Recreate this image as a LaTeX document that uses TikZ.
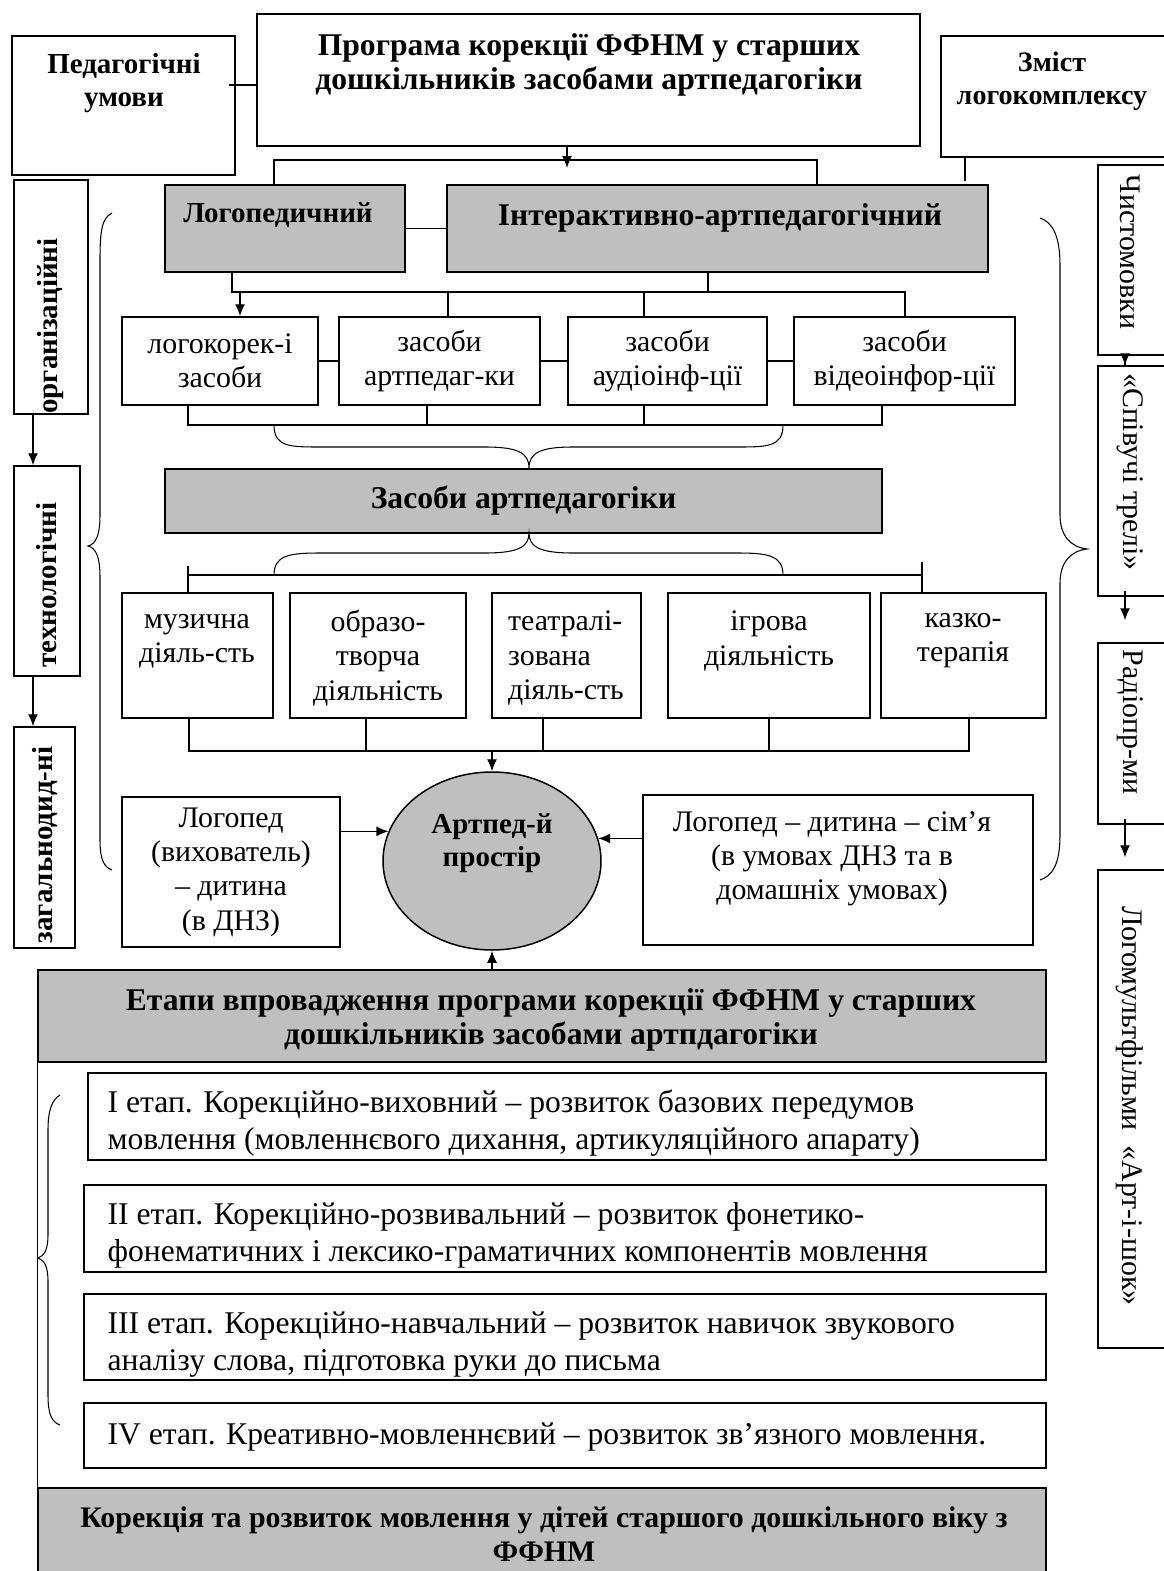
\documentclass[tikz,border=0pt]{standalone}
\usepackage{fontspec}
\setmainfont{Liberation Serif}
\usetikzlibrary{shapes.geometric,arrows.meta,calc}

\tikzset{
  box/.style={draw, line width=0.85pt, inner sep=0pt},
  gbox/.style={box, fill=black!25},
  sz/.style 2 args={minimum width=#1*0.02cm, minimum height=#2*0.02cm},
  txt/.style={align=center, inner sep=0pt, font=\fontsize{17}{19.5}\selectfont},
  hd/.style={align=center, inner sep=0pt, font=\fontsize{18}{19.5}\selectfont\bfseries},
  hds/.style={align=center, inner sep=0pt, font=\fontsize{16.5}{19}\selectfont\bfseries},
  stg/.style={align=left, anchor=west, inner sep=0pt, font=\fontsize{18}{21}\selectfont},
  brc/.style={line width=0.6pt}
}

\begin{document}
\begin{tikzpicture}[x=0.02cm, y=-0.02cm, line width=0.75pt, >={Latex[length=2.4mm,width=2mm]}]
    \useasboundingbox (0,0) rectangle (1163,1571);

    \node[box, sz={223}{139}] (pedag) at (123.5,105.5) {};
    \node[hds] (pedag-t) at (124,83) {Педагогічні\\умови};
    \node[box, sz={663}{132}] (prog) at (588.5,80) {};
    \node[hd] (prog-t) at (589,65) {Програма корекції ФФНМ у старших\\дошкільників засобами артпедагогіки};
    \node[box, sz={239}{121}] (zmist) at (1060.5,96.5) {};
    \node[hds, font=\fontsize{16}{19}\selectfont\bfseries] (zmist-t) at (1052,81) {Зміст\\логокомплексу};

    \node[gbox, sz={240}{87}] (logo) at (285,228.5) {};
    \node[hds] (logo-t) at (278,215) {Логопедичний};
    \node[gbox, sz={541}{87}] (inter) at (717.5,228.5) {};
    \node[hd] (inter-t) at (720,218) {Інтерактивно-артпедагогічний};

    \node[box, sz={196}{88}, txt] (tl1) at (220,361) {логокорек-і\\засоби};
    \node[box, sz={201}{88}, txt] (tl2) at (439.5,361) {засоби\\артпедаг-ки};
    \node[box, sz={199}{88}, txt] (tl3) at (667.5,361) {засоби\\аудіоінф-ції};
    \node[box, sz={221}{88}, txt] (tl4) at (904.5,361) {засоби\\відеоінфор-ції};

    \node[gbox, sz={717}{64}, hd] (zasoby) at (523.5,501) {Засоби артпедагогіки};

    \node[box, sz={151}{125}] (a1) at (197.5,655.5) {};
    \node[txt] (a1-t) at (197,641) {музична\\діяль-сть};
    \node[box, sz={176}{125}] (a2) at (378,655.5) {};
    \node[txt] (a2-t) at (378,658) {образо-\\творча\\діяльність};
    \node[box, sz={149}{125}] (a3) at (566.5,655.5) {};
    \node[txt, align=left] (a3-t) at (566,658) {театралі-\\зована\\діяль-сть};
    \node[box, sz={202}{125}] (a4) at (769,655.5) {};
    \node[txt] (a4-t) at (769,641) {ігрова\\діяльність};
    \node[box, sz={165}{125}] (a5) at (963.5,655.5) {};
    \node[txt] (a5-t) at (963,641) {казко-\\терапія};

    \node[ellipse, gbox, sz={218}{178}] (space) at (492,861) {};
    \node[hds] (space-t) at (492,843) {Артпед-й\\простір};
    \node[box, sz={218}{150}, txt] (lp1) at (231,872) {Логопед\\(вихователь)\\– дитина\\(в ДНЗ)};
    \node[box, sz={390}{150}] (lp2) at (838,870) {};
    \node[txt] (lp2-t) at (832,859) {Логопед – дитина – сім’я\\(в умовах ДНЗ та в\\домашніх  умовах)};

    \node[gbox, sz={1008}{92}] (etapy) at (542,1016) {};
    \node[hd] (etapy-t) at (551,1020) {Етапи впровадження програми корекції ФФНМ у старших\\дошкільників засобами артпдагогіки};
    \node[box, sz={958}{87}] (s1) at (567,1116.5) {};
    \node[stg] (s1-t) at (107,1123) {I етап. Корекційно-виховний – розвиток базових передумов\\мовлення (мовленнєвого дихання, артикуляційного апарату)};
    \node[box, sz={962}{87}] (s2) at (565,1228.5) {};
    \node[stg] (s2-t) at (107,1235) {II етап. Корекційно-розвивальний – розвиток фонетико-\\фонематичних і лексико-граматичних компонентів мовлення};
    \node[box, sz={962}{86}] (s3) at (565,1337) {};
    \node[stg] (s3-t) at (107,1345) {III етап. Корекційно-навчальний – розвиток навичок звукового\\аналізу слова, підготовка руки до письма};
    \node[box, sz={962}{65}] (s4) at (565,1435.5) {};
    \node[stg] (s4-t) at (107,1437) {IV етап. Креативно-мовленнєвий – розвиток зв’язного мовлення.};
    \node[gbox, sz={1008}{112}] (corr) at (542,1544) {};
    \node[hds, font=\fontsize{17}{19}\selectfont\bfseries] (corr-t) at (544,1534) {Корекція та розвиток мовлення у дітей старшого дошкільного віку з\\ФФНМ};

    \node[box, sz={74}{234}] (org) at (51,297) {};
    \node[hds, rotate=90] (org-t) at (51,326) {організаційні};
    \node[box, sz={66}{210}] (tech) at (47,571) {};
    \node[hds, rotate=90] (tech-t) at (47,585) {технологічні};
    \node[box, sz={61}{221}] (zag) at (44.5,837.5) {};
    \node[hds, rotate=90] (zag-t) at (45,845) {загальнодид-ні};

    \node[box, sz={82}{190}] (r1) at (1139,260) {};
    \node[txt, rotate=-90] (r1-t) at (1130,252) {Чистомовки};
    \node[box, sz={82}{230}] (r2) at (1139,481) {};
    \node[txt, rotate=-90] (r2-t) at (1130,472) {«Співучі трелі»};
    \node[box, sz={82}{181}] (r3) at (1139,733.5) {};
    \node[txt, rotate=-90] (r3-t) at (1130,722) {Радіопр-ми};
    \node[box, sz={82}{478}] (r4) at (1139,1109) {};
    \node[txt, rotate=-90] (r4-t) at (1130,1106) {Логомультфільми\ \ «Арт-і-шок»};

    \coordinate (pa) at (567,168);
    \coordinate (b1w) at (274,160);
    \coordinate (b1e) at (817,160);
    \draw (pedag.east |- 0,85) ++(-7,0) -- (prog.west |- 0,85);
    \draw[->] (prog.south -| pa) -- (pa);
    \draw (logo.north -| b1w) -- (b1w) -- (b1e) -- (inter.north -| b1e);
    \draw (zmist.south -| 965,0) -- ++(0,23);
    \draw (logo) -- (inter);

    \coordinate (b2w) at (232,292);
    \coordinate (b2e) at (905,292);
    \draw (logo.south -| b2w) -- (b2w) -- (b2e) -- (tl4.north -| b2e);
    \draw (inter.south -| 708,0) -- (b2w -| 708,0);
    \draw[->] (b2w -| 240,0) -- (tl1.north -| 240,0);
    \draw (b2w -| 448,0) -- (tl2.north -| 448,0);
    \draw (b2w -| 644,0) -- (tl3.north -| 644,0);
    \draw (tl1) -- (tl2);
    \draw (tl2) -- (tl3);
    \draw (tl3) -- (tl4);

    \coordinate (b3w) at (188,425);
    \coordinate (b3e) at (882,425);
    \draw (tl1.south -| b3w) -- (b3w) -- (b3e) -- (tl4.south -| b3e);
    \draw (tl2.south -| 427,0) -- (b3w -| 427,0);
    \draw (tl3.south -| 644,0) -- (b3w -| 644,0);
    \draw[brc] (274,425) .. controls (274,447) and (290,447) .. (320,447) -- (485,447)
        .. controls (518,447) and (529,453) .. (529,468) .. controls (529,453) and (540,447) .. (573,447)
        -- (737,447) .. controls (767,447) and (783,447) .. (783,425);
    \draw[brc] (274,575) .. controls (274,555) and (290,553) .. (320,553) -- (485,553)
        .. controls (518,553) and (529,547) .. (529,533) .. controls (529,547) and (540,553) .. (573,553)
        -- (737,553) .. controls (767,553) and (783,555) .. (783,575);

    \coordinate (b4w) at (188,575);
    \coordinate (b4e) at (922,575);
    \draw (b4w) -- (b4e);
    \draw (b4w) ++(0,-9) -- (a1.north -| b4w);
    \draw (b4e) ++(0,-13) -- (a5.north -| b4e);

    \coordinate (b5w) at (189,751);
    \coordinate (b5e) at (969,751);
    \draw (a1.south -| b5w) -- (b5w) -- (b5e) -- (a5.south -| b5e);
    \draw (a2.south -| 366,0) -- (b5w -| 366,0);
    \draw (a3.south -| 543,0) -- (b5w -| 543,0);
    \draw (a4.south -| 769,0) -- (b5w -| 769,0);
    \draw[->] (b5w -| space) -- (space.north);
    \draw[->] (lp1.east |- space.164) -- (space.164);
    \draw[->] (lp2.west |- space.12) -- (space.12);
    \draw[->] (etapy.north -| space) -- (space.south);
    \draw[line width=0.85pt] (etapy.south west) -- (corr.north west);

    \draw[brc] (112,213) .. controls (102,218) and (100,230) .. (100,260) -- (100,515)
        .. controls (100,535) and (96,544) .. (88,546) .. controls (96,548) and (100,557) .. (100,577)
        -- (100,840) .. controls (100,860) and (104,867) .. (112,870);
    \draw[brc] (1040,218) .. controls (1052,222) and (1060,235) .. (1060,265) -- (1060,515)
        .. controls (1060,535) and (1070,547) .. (1087,549) .. controls (1070,551) and (1060,563) .. (1060,583)
        -- (1060,835) .. controls (1060,865) and (1052,876) .. (1040,880);
    \draw[brc] (60,1095) .. controls (52,1100) and (48,1110) .. (48,1130) -- (48,1235)
        .. controls (48,1250) and (44,1256) .. (38,1258) .. controls (44,1260) and (48,1266) .. (48,1281)
        -- (48,1395) .. controls (48,1415) and (52,1422) .. (60,1425);

    \coordinate (lx) at (33,0);
    \draw[->] (org.south -| lx) -- (tech.north -| lx);
    \draw[->] (tech.south -| lx) -- (zag.north -| lx);

    \coordinate (rx) at (1125,0);
    \draw[->, shorten <=-0.2cm] (r1.south -| rx) -- (r2.north -| rx);
    \draw[->, shorten <=-0.12cm, shorten >=0.44cm] (r2.south -| rx) -- (r3.north -| rx);
    \draw[->, shorten <=-0.12cm, shorten >=0.24cm] (r3.south -| rx) -- (r4.north -| rx);
  \end{tikzpicture}
\end{document}
